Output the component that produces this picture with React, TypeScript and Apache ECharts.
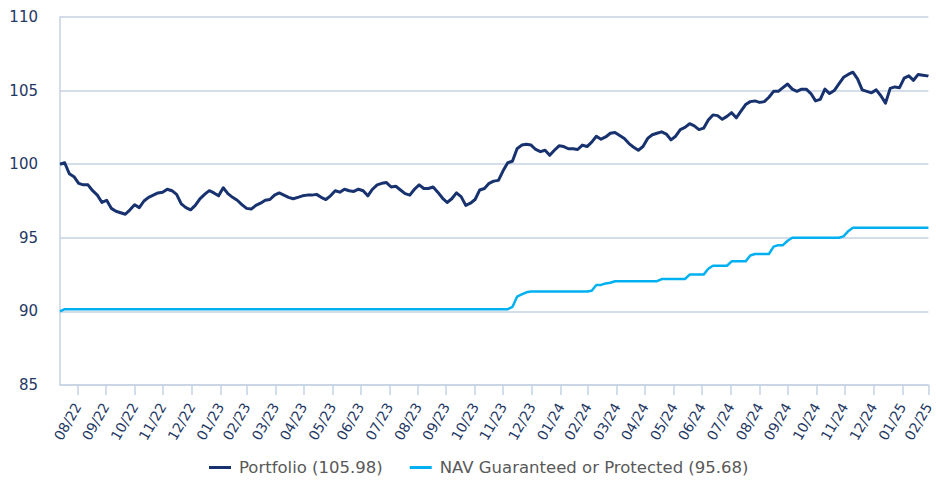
import React, { useEffect, useRef } from 'react';
import * as echarts from 'echarts';

const START_DATE = '2022-08-12';
const END_DATE = '2025-02-28';
const SAMPLE_STEP_DAYS = 5;

const seriesNames = ['Portfolio (105.98)', 'NAV Guaranteed or Protected (95.68)'];

const portfolio = [
  100.0, 100.1, 99.35, 99.15, 98.7, 98.6, 98.6, 98.2, 97.9, 97.4,
  97.55, 97.0, 96.8, 96.7, 96.6, 96.9, 97.25, 97.05, 97.5, 97.75,
  97.9, 98.05, 98.1, 98.3, 98.2, 97.95, 97.3, 97.05, 96.9, 97.2,
  97.65, 97.95, 98.2, 98.05, 97.85, 98.4, 98.0, 97.75, 97.55, 97.25,
  97.0, 96.95, 97.2, 97.35, 97.55, 97.6, 97.9, 98.05, 97.9, 97.75,
  97.65, 97.75, 97.85, 97.9, 97.9, 97.95, 97.75, 97.6, 97.85, 98.2,
  98.1, 98.3, 98.2, 98.15, 98.3, 98.2, 97.85, 98.3, 98.6, 98.7,
  98.75, 98.45, 98.5, 98.25, 98.0, 97.9, 98.3, 98.6, 98.35, 98.35,
  98.45, 98.1, 97.7, 97.4, 97.65, 98.05, 97.8, 97.2, 97.35, 97.6,
  98.25, 98.35, 98.7, 98.85, 98.9, 99.55, 100.1, 100.2, 101.05, 101.3,
  101.35, 101.3, 101.0, 100.85, 100.95, 100.6, 100.95, 101.25, 101.2, 101.05,
  101.05, 101.0, 101.3, 101.2, 101.5, 101.9, 101.7, 101.85, 102.1, 102.15,
  101.95, 101.75, 101.4, 101.15, 100.95, 101.2, 101.75, 102.0, 102.1, 102.2,
  102.05, 101.65, 101.9, 102.35, 102.5, 102.75, 102.6, 102.35, 102.45, 103.0,
  103.35, 103.3, 103.05, 103.25, 103.5, 103.15, 103.6, 104.05, 104.25, 104.3,
  104.2, 104.25, 104.55, 104.95, 104.95, 105.2, 105.45, 105.1, 104.95, 105.1,
  105.1, 104.8, 104.3, 104.4, 105.1, 104.8, 105.0, 105.45, 105.9, 106.1,
  106.25, 105.8, 105.05, 104.95, 104.85, 105.05, 104.65, 104.15, 105.15, 105.25,
  105.2, 105.85, 106.0, 105.7, 106.1, 106.05, 106.0, 105.98,
];

const navGuaranteed = [
  90.0, 90.15, 90.15, 90.15, 90.15, 90.15, 90.15, 90.15, 90.15, 90.15,
  90.15, 90.15, 90.15, 90.15, 90.15, 90.15, 90.15, 90.15, 90.15, 90.15,
  90.15, 90.15, 90.15, 90.15, 90.15, 90.15, 90.15, 90.15, 90.15, 90.15,
  90.15, 90.15, 90.15, 90.15, 90.15, 90.15, 90.15, 90.15, 90.15, 90.15,
  90.15, 90.15, 90.15, 90.15, 90.15, 90.15, 90.15, 90.15, 90.15, 90.15,
  90.15, 90.15, 90.15, 90.15, 90.15, 90.15, 90.15, 90.15, 90.15, 90.15,
  90.15, 90.15, 90.15, 90.15, 90.15, 90.15, 90.15, 90.15, 90.15, 90.15,
  90.15, 90.15, 90.15, 90.15, 90.15, 90.15, 90.15, 90.15, 90.15, 90.15,
  90.15, 90.15, 90.15, 90.15, 90.15, 90.15, 90.15, 90.15, 90.15, 90.15,
  90.15, 90.15, 90.15, 90.15, 90.15, 90.15, 90.15, 90.3, 91.0, 91.15,
  91.3, 91.35, 91.35, 91.35, 91.35, 91.35, 91.35, 91.35, 91.35, 91.35,
  91.35, 91.35, 91.35, 91.35, 91.4, 91.8, 91.8, 91.9, 91.95, 92.05,
  92.05, 92.05, 92.05, 92.05, 92.05, 92.05, 92.05, 92.05, 92.05, 92.2,
  92.2, 92.2, 92.2, 92.2, 92.2, 92.5, 92.5, 92.5, 92.5, 92.9,
  93.1, 93.1, 93.1, 93.1, 93.4, 93.4, 93.4, 93.4, 93.8, 93.9,
  93.9, 93.9, 93.9, 94.4, 94.5, 94.5, 94.8, 95.0, 95.0, 95.0,
  95.0, 95.0, 95.0, 95.0, 95.0, 95.0, 95.0, 95.0, 95.1, 95.45,
  95.68, 95.68, 95.68, 95.68, 95.68, 95.68, 95.68, 95.68, 95.68, 95.68,
  95.68, 95.68, 95.68, 95.68, 95.68, 95.68, 95.68, 95.68,
];

const Y_MIN = 85;
const Y_MAX = 110;
const Y_STEP = 5;

function buildDays(): string[] {
  const out: string[] = [];
  const d = new Date(START_DATE + 'T00:00:00Z');
  const end = new Date(END_DATE + 'T00:00:00Z');
  while (d.getTime() <= end.getTime()) {
    out.push(d.toISOString().slice(0, 10));
    d.setUTCDate(d.getUTCDate() + 1);
  }
  return out;
}

function isMonthEnd(s: string): boolean {
  const d = new Date(s + 'T00:00:00Z');
  d.setUTCDate(d.getUTCDate() + 1);
  return d.getUTCDate() === 1;
}

export default function App() {
  const ref = useRef<HTMLDivElement>(null);
  useEffect(() => {
    if (!ref.current) return;
    const days = buildDays();
    const toPairs = (arr: number[]) =>
      arr.map((v, i) => [Math.min(i * SAMPLE_STEP_DAYS, days.length - 1), v]);
    const chart = echarts.init(ref.current, undefined, { renderer: 'svg' });
    const font = '"DejaVu Sans", Verdana, sans-serif';
    const gridColor = '#c6d3e4';
    chart.setOption({
      animation: false,
      backgroundColor: '#ffffff',
      grid: { left: 60, right: 1, top: 17, bottom: 96, containLabel: false },
      legend: {
        bottom: 0,
        left: 204,
        icon: 'rect',
        itemWidth: 22,
        itemHeight: 3,
        itemGap: 27,
        textStyle: { color: '#595959', fontSize: 16.5, fontFamily: font, padding: [0, 0, 0, 3] },
        data: seriesNames,
      },
      xAxis: {
        type: 'category',
        data: days,
        boundaryGap: false,
        axisLine: { show: true, lineStyle: { color: gridColor, width: 1.5 } },
        axisTick: {
          show: true,
          length: 10,
          interval: (_i: number, v: string) => isMonthEnd(v),
          lineStyle: { color: gridColor, width: 1.5 },
        },
        axisLabel: {
          interval: (_i: number, v: string) => isMonthEnd(v),
          rotate: 60,
          margin: 19,
          color: '#1f3864',
          fontSize: 14,
          fontFamily: font,
          formatter: (v: string) => v.slice(5, 7) + '/' + v.slice(2, 4),
        },
        splitLine: { show: false },
      },
      yAxis: {
        type: 'value',
        min: Y_MIN,
        max: Y_MAX,
        interval: Y_STEP,
        axisLine: { show: true, lineStyle: { color: gridColor, width: 1.5 } },
        axisTick: { show: false },
        axisLabel: { color: '#1f3864', fontSize: 15, fontFamily: font, margin: 22 },
        splitLine: { show: true, lineStyle: { color: gridColor, width: 1.5 } },
      },
      series: [
        {
          name: seriesNames[0],
          type: 'line',
          data: toPairs(portfolio),
          showSymbol: false,
          symbol: 'none',
          lineStyle: { color: '#17326e', width: 3, join: 'round' },
          itemStyle: { color: '#17326e' },
          z: 3,
        },
        {
          name: seriesNames[1],
          type: 'line',
          data: toPairs(navGuaranteed),
          showSymbol: false,
          symbol: 'none',
          lineStyle: { color: '#00b0f0', width: 2.5, join: 'round' },
          itemStyle: { color: '#00b0f0' },
          z: 2,
        },
      ],
    });
    return () => chart.dispose();
  }, []);
  return (
    <div
      ref={ref}
      style={{ position: 'fixed', left: 0, top: 0, width: 936, height: 481, background: '#fff' }}
    />
  );
}
